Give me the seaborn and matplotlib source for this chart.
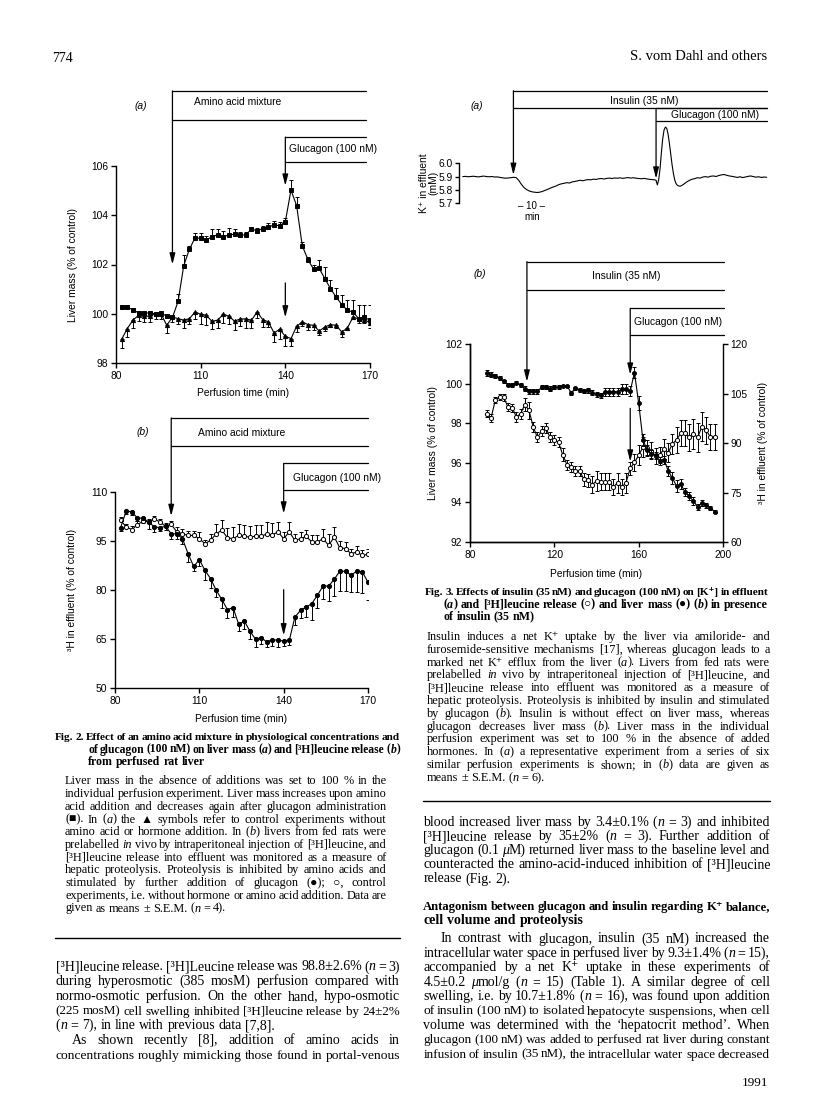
import numpy as np
import matplotlib
matplotlib.use("Agg")
import matplotlib.pyplot as plt
import seaborn as sns

sns.set_style("ticks", rc={"axes.edgecolor": "black", "xtick.color": "black", "ytick.color": "black",
                           "text.color": "black", "axes.labelcolor": "black"})
plt.rcParams["font.family"] = ["Liberation Sans", "DejaVu Sans"]
SERIF = ["Liberation Serif", "DejaVu Sans"]
SPECIAL = set("■▲●○⁺")
FS = 7.4  # figure text size

# ---------------- Fig. 2 data (perfusion time, min) ----------------
fig2_time = list(range(82, 171, 2))
# (a) liver mass, amino acids + glucagon (filled squares), upper SEM
aa_mass = [100.26, 100.26, 100.17, 100.03, 100.03, 100.03, 100.0, 100.03, 99.9, 99.85,
           100.5, 101.95, 102.62, 103.08, 103.06, 102.99, 103.13, 103.2, 103.13, 103.2,
           103.23, 103.2, 103.2, 103.44, 103.37, 103.46, 103.53, 103.6, 103.57, 103.74,
           105.02, 104.39, 102.76, 102.2, 101.81, 101.84, 101.43, 101.02, 100.68, 100.37,
           100.14, 100.07, 99.8, 99.85, 99.74]
aa_mass_err = [0.08, 0.08, 0.05, 0.05, 0.05, 0.05, 0.05, 0.05, 0.05, 0.05,
               0.3, 0.45, 0.15, 0.2, 0.2, 0.15, 0.3, 0.25, 0.25, 0.3,
               0.2, 0.1, 0.1, 0.1, 0.1, 0.1, 0.15, 0.15, 0.15, 0.15,
               0.4, 0.35, 0.15, 0.1, 0.15, 0.35, 0.45, 0.35, 0.35, 0.4,
               0.4, 0.5, 0.55, 0.5, 0.6]
# (a) control (triangles), lower SEM
ctrl_mass = [98.96, 99.40, 99.74, 99.94, 99.90, 99.90, 100.0, 99.98, 99.53, 99.87,
             99.80, 99.74, 99.80, 100.07, 99.98, 99.94, 99.69, 99.74, 99.98, 99.90,
             99.70, 99.79, 99.79, 99.74, 100.07, 99.76, 99.67, 99.22, 99.37, 99.08,
             98.99, 99.49, 99.67, 99.56, 99.53, 99.30, 99.46, 99.56, 99.53, 99.26,
             99.42, 99.87, 99.78, 99.76, 99.63]
ctrl_mass_err = [0.35, 0.35, 0.3, 0.25, 0.25, 0.25, 0.2, 0.2, 0.3, 0.2,
                 0.2, 0.3, 0.2, 0.3, 0.4, 0.4, 0.3, 0.3, 0.35, 0.3,
                 0.35, 0.3, 0.35, 0.3, 0.25, 0.3, 0.2, 0.35, 0.4, 0.4,
                 0.3, 0.25, 0.15, 0.2, 0.2, 0.15, 0.15, 0.1, 0.1, 0.2,
                 0.1, 0.1, 0.15, 0.15, 0.2]
# (b) 3H release, amino acids + glucagon (filled circles), lower SEM
aa_leu = [99.1, 104.2, 103.9, 102.0, 102.0, 100.8, 99.3, 99.1, 99.5, 97.2,
          97.2, 95.7, 91.1, 87.2, 89.3, 86.0, 83.5, 79.9, 77.1, 74.0,
          74.6, 69.5, 70.5, 67.4, 64.9, 65.4, 64.1, 64.8, 64.6, 64.4,
          64.6, 71.7, 73.8, 74.8, 75.8, 78.4, 81.2, 81.2, 83.3, 85.8,
          85.7, 84.5, 85.8, 85.5, 82.4]
aa_leu_err = [1.0, 1.0, 1.0, 1.0, 1.5, 2.0, 1.5, 1.0, 1.0, 1.5,
              1.5, 1.5, 2.5, 1.5, 2.0, 3.0, 3.0, 2.0, 2.5, 2.5,
              3.0, 2.0, 2.5, 2.5, 2.5, 2.0, 1.5, 2.0, 2.0, 1.5,
              1.5, 2.5, 2.5, 3.0, 5.0, 4.0, 4.0, 4.5, 5.0, 6.0,
              6.0, 5.0, 6.5, 6.5, 5.5]
# (b) control (open circles), upper SEM
ctrl_leu = [101.3, 99.3, 98.5, 100.0, 101.1, 100.8, 101.8, 100.8, 99.5, 100.1,
            97.8, 97.2, 96.7, 96.7, 95.7, 94.2, 95.2, 97.2, 98.3, 96.0,
            95.7, 96.7, 96.4, 96.2, 96.5, 96.4, 97.2, 96.9, 97.8, 95.7,
            97.8, 95.2, 95.7, 96.4, 94.7, 94.7, 95.7, 93.7, 96.2, 92.9,
            92.7, 91.1, 91.6, 90.6, 90.9]
ctrl_leu_err = [1.0, 1.0, 1.0, 1.0, 1.0, 1.0, 1.0, 1.0, 1.0, 1.0,
                1.5, 1.5, 1.5, 1.5, 2.0, 1.0, 2.0, 3.0, 3.0, 3.0,
                3.5, 3.5, 3.5, 3.5, 3.5, 3.5, 3.5, 3.5, 3.0, 2.0,
                3.0, 2.0, 2.0, 2.0, 2.0, 2.0, 3.0, 3.5, 3.0, 2.0,
                2.0, 1.5, 2.0, 1.5, 1.5]

# ---------------- Fig. 3 data ----------------
# (a) K+ trace (mM) against minutes from start of recording
k_time = list(range(0, 72)) + [72, 72.5, 73, 73.5, 74, 74.5, 75, 75.5, 76, 76.5, 77,
                               77.5, 78, 78.5, 79, 79.5, 80, 80.5, 81, 81.5, 82] + list(range(83, 115))
k_conc = [5.900, 5.902, 5.899, 5.901, 5.903, 5.900, 5.898, 5.902, 5.904, 5.900,
          5.899, 5.901, 5.897, 5.898, 5.894, 5.891, 5.888, 5.890, 5.892, 5.895,
          5.893, 5.872, 5.842, 5.818, 5.802, 5.792, 5.786, 5.783, 5.781, 5.784,
          5.790, 5.798, 5.806, 5.815, 5.823, 5.830, 5.840, 5.846, 5.850, 5.855,
          5.852, 5.860, 5.864, 5.868, 5.873, 5.869, 5.874, 5.878, 5.876, 5.881,
          5.879, 5.884, 5.886, 5.882, 5.887, 5.889, 5.886, 5.890, 5.888, 5.891,
          5.887, 5.890, 5.893, 5.889, 5.892, 5.888, 5.886, 5.884, 5.887, 5.883,
          5.880, 5.878,
          5.876, 5.872, 5.838, 5.880, 5.960, 6.080, 6.185, 6.250, 6.272, 6.262, 6.220,
          6.150, 6.070, 5.990, 5.925, 5.875, 5.848, 5.835, 5.830, 5.828, 5.832,
          5.845, 5.860, 5.872, 5.880, 5.885, 5.892, 5.889, 5.897, 5.900, 5.896,
          5.903, 5.905, 5.901, 5.908, 5.913, 5.916, 5.910, 5.905, 5.902, 5.898,
          5.894, 5.899, 5.893, 5.897, 5.902, 5.905, 5.900, 5.896, 5.899, 5.894,
          5.897, 5.895]
k_insulin_t, k_glucagon_t = 19, 72.5

# (b) perfusion time, liver mass (filled) and 3H release (open)
fig3_time = list(range(88, 197, 2))
ins_mass = [100.53, 100.45, 100.39, 100.27, 100.12, 99.95, 99.95, 100.05, 99.91, 99.74,
            99.62, 99.62, 99.62, 99.81, 99.81, 99.74, 99.81, 99.83, 99.88, 99.88,
            99.54, 99.76, 99.67, 99.62, 99.67, 99.54, 99.45, 99.40, 99.59, 99.59,
            99.59, 99.59, 99.71, 99.71, 99.62, 100.56, 99.02, 97.17, 96.66, 96.46,
            96.37, 96.11, 96.16, 95.60, 95.22, 94.83, 94.91, 94.52, 94.32, 94.06,
            93.77, 93.97, 93.85, 93.72, 93.54]
ins_mass_err = [0.15, 0.12, 0.12, 0.1, 0.08, 0.08, 0.1, 0.08, 0.1, 0.12,
                0.12, 0.12, 0.12, 0.1, 0.1, 0.12, 0.1, 0.08, 0.05, 0.05,
                0.1, 0.08, 0.1, 0.1, 0.12, 0.12, 0.15, 0.15, 0.2, 0.2,
                0.2, 0.2, 0.25, 0.25, 0.25, 0.3, 0.35, 0.3, 0.25, 0.2,
                0.2, 0.2, 0.2, 0.25, 0.3, 0.3, 0.25, 0.2, 0.2, 0.2,
                0.15, 0.15, 0.12, 0.12, 0.1]
ins_leu = [98.9, 97.6, 103.0, 104.0, 103.8, 100.9, 100.7, 97.9, 98.9, 101.6,
           99.9, 94.8, 91.7, 93.6, 94.5, 91.7, 90.9, 90.2, 86.4, 83.4,
           82.6, 81.5, 81.5, 79.0, 78.7, 77.4, 78.5, 78.3, 78.3, 78.3,
           76.6, 78.0, 76.6, 78.0, 82.3, 84.1, 86.3, 88.7, 88.5, 87.7,
           86.0, 86.4, 88.2, 87.1, 89.7, 91.0, 93.0, 93.0, 91.7, 92.8,
           91.7, 95.0, 93.8, 91.9, 91.9]
ins_leu_err = [1.0, 1.2, 1.0, 1.0, 1.0, 1.2, 1.2, 1.5, 1.5, 2.0,
               2.5, 1.5, 1.5, 1.5, 1.5, 1.5, 1.5, 1.5, 2.0, 1.5,
               1.5, 1.5, 1.5, 2.0, 2.0, 2.5, 3.0, 2.5, 2.5, 2.5,
               2.5, 3.0, 2.5, 3.0, 2.0, 2.5, 3.0, 3.0, 2.5, 2.5,
               2.5, 2.5, 3.0, 3.0, 3.0, 4.0, 4.0, 4.0, 4.0, 4.5,
               4.5, 4.5, 4.0, 4.0, 4.0]

# ---------------- page text ----------------
fig2_title = ["Fig. 2. Effect of an amino acid mixture in physiological concentrations and",
              "of glucagon (100 nM) on liver mass ({a}) and [³H]leucine release ({b})",
              "from perfused rat liver"]
fig2_legend = ["Liver mass in the absence of additions was set to 100 % in the",
               "individual perfusion experiment. Liver mass increases upon amino",
               "acid addition and decreases again after glucagon administration",
               "(■). In ({a}) the ▲ symbols refer to control experiments without",
               "amino acid or hormone addition. In ({b}) livers from fed rats were",
               "prelabelled {in vivo} by intraperitoneal injection of [³H]leucine, and",
               "[³H]leucine release into effluent was monitored as a measure of",
               "hepatic proteolysis. Proteolysis is inhibited by amino acids and",
               "stimulated by further addition of glucagon (●); ○, control",
               "experiments, i.e. without hormone or amino acid addition. Data are",
               "given as means ± S.E.M. ({n} = 4)."]
left_body = ["[³H]leucine release. [³H]Leucine release was 98.8±2.6% ({n} = 3)",
             "during hyperosmotic (385 mosM) perfusion compared with",
             "normo-osmotic perfusion. On the other hand, hypo-osmotic",
             "(225 mosM) cell swelling inhibited [³H]leucine release by 24±2%",
             "({n} = 7), in line with previous data [7,8].",
             "As shown recently [8], addition of amino acids in",
             "concentrations roughly mimicking those found in portal-venous"]
fig3_title = ["Fig. 3. Effects of insulin (35 nM) and glucagon (100 nM) on [K⁺] in effluent",
              "({a}) and [³H]leucine release (○) and liver mass (●) ({b}) in presence",
              "of insulin (35 nM)"]
fig3_legend = ["Insulin induces a net K⁺ uptake by the liver via amiloride- and",
               "furosemide-sensitive mechanisms [17], whereas glucagon leads to a",
               "marked net K⁺ efflux from the liver ({a}). Livers from fed rats were",
               "prelabelled {in vivo} by intraperitoneal injection of [³H]leucine, and",
               "[³H]leucine release into effluent was monitored as a measure of",
               "hepatic proteolysis. Proteolysis is inhibited by insulin and stimulated",
               "by glucagon ({b}). Insulin is without effect on liver mass, whereas",
               "glucagon decreases liver mass ({b}). Liver mass in the individual",
               "perfusion experiment was set to 100 % in the absence of added",
               "hormones. In ({a}) a representative experiment from a series of six",
               "similar perfusion experiments is shown; in ({b}) data are given as",
               "means ± S.E.M. ({n} = 6)."]
right_body1 = ["blood increased liver mass by 3.4±0.1% ({n} = 3) and inhibited",
               "[³H]leucine release by 35±2% ({n} = 3). Further addition of",
               "glucagon (0.1 {μ}M) returned liver mass to the baseline level and",
               "counteracted the amino-acid-induced inhibition of [³H]leucine",
               "release (Fig. 2)."]
right_head = ["Antagonism between glucagon and insulin regarding K⁺ balance,",
              "cell volume and proteolysis"]
right_body2 = ["In contrast with glucagon, insulin (35 nM) increased the",
               "intracellular water space in perfused liver by 9.3±1.4% ({n} = 15),",
               "accompanied by a net K⁺ uptake in these experiments of",
               "4.5±0.2 {μ}mol/g ({n} = 15) (Table 1). A similar degree of cell",
               "swelling, i.e. by 10.7±1.8% ({n} = 16), was found upon addition",
               "of insulin (100 nM) to isolated hepatocyte suspensions, when cell",
               "volume was determined with the ‘hepatocrit method’. When",
               "glucagon (100 nM) was added to perfused rat liver during constant",
               "infusion of insulin (35 nM), the intracellular water space decreased"]

W, H = 816, 1108
fig = plt.figure(figsize=(W / 100, H / 100), dpi=100)
fig.patch.set_facecolor("white")


def add_ax(l, t, r, b):
    return fig.add_axes([l / W, 1 - b / H, (r - l) / W, (b - t) / H])


def style(ax):
    for s in ax.spines.values():
        s.set_linewidth(1.0)
    ax.tick_params(direction="out", length=3.5, width=1.0, labelsize=FS, pad=2)
    ax.grid(False)
    ax.set_facecolor("none")


def series(ax, x, y, lo, hi, marker, filled, ms=3.2):
    ax.errorbar(x, y, yerr=[lo, hi], fmt="none", ecolor="k", elinewidth=0.7,
                capsize=1.6, capthick=0.7, zorder=2)
    sns.lineplot(x=x, y=y, ax=ax, color="k", lw=0.8, marker=marker, markersize=ms,
                 markerfacecolor="k" if filled else "white", markeredgecolor="k",
                 markeredgewidth=0.7, zorder=3)


ARROW = dict(arrowstyle="-|>,head_length=0.55,head_width=0.14", color="k", lw=0.9,
             shrinkA=0, shrinkB=0, mutation_scale=12)


def bracket(ax, t, tip, top, low, xend, label, lx, ly):
    tr = ax.get_xaxis_transform()
    ax.annotate("", xy=(t, tip), xycoords="data", xytext=(t, top), textcoords=tr,
                arrowprops=ARROW, annotation_clip=False)
    for yy in (top, low):
        ax.plot([t, xend], [yy, yy], transform=tr, color="k", lw=0.9, clip_on=False)
    ax.text(lx, ly, label, transform=tr, ha="center", va="center", fontsize=FS)


def arrow(ax, t, y0, y1):
    ax.annotate("", xy=(t, y1), xytext=(t, y0), arrowprops=ARROW, annotation_clip=False)


def panel_tag(ax, x, y, letter):
    ax.text(x, y, "(" + letter + ")", transform=ax.get_xaxis_transform(),
            ha="center", va="center", fontsize=FS, fontstyle="italic")


def labels(ax, xlabel, xl_y, ylabel, yl_x):
    if xlabel:
        ax.set_xlabel(xlabel, fontsize=FS)
        ax.xaxis.set_label_coords(0.5, xl_y)
        ax.xaxis.label.set_va("center")
    ax.set_ylabel(ylabel, fontsize=FS)
    ax.yaxis.set_label_coords(yl_x, 0.5)
    ax.yaxis.label.set_va("center")


zeros2 = np.zeros(len(fig2_time))

# ---- Fig. 2 (a) ----
ax = add_ax(116, 166, 370, 363)
style(ax)
series(ax, fig2_time, ctrl_mass, ctrl_mass_err, zeros2, "^", True, 3.0)
series(ax, fig2_time, aa_mass, zeros2, aa_mass_err, "s", True, 2.8)
bracket(ax, 100, 102.0, 1.381, 1.234, 168.5, "Amino acid mixture", 123.2, 1.325)
bracket(ax, 140, 105.2, 1.147, 1.022, 168.5, "Glucagon (100 nM)", 156.9, 1.086)
arrow(ax, 140, 101.25, 99.85)
panel_tag(ax, 88.8, 1.305, "a")
ax.set_xlim(80, 170)
ax.set_ylim(98, 106)
ax.set_xticks([80, 110, 140, 170])
ax.set_yticks([98, 100, 102, 104, 106])
labels(ax, "Perfusion time (min)", -0.151, "Liver mass (% of control)", -0.170)
sns.despine(ax=ax)

# ---- Fig. 2 (b) ----
ax = add_ax(115, 492, 368, 688)
style(ax)
series(ax, fig2_time, ctrl_leu, zeros2, ctrl_leu_err, "o", False, 3.0)
series(ax, fig2_time, aa_leu, aa_leu_err, zeros2, "o", True, 3.0)
bracket(ax, 100, 102.65, 1.378, 1.235, 170, "Amino acid mixture", 125.1, 1.303)
bracket(ax, 140, 103.4, 1.146, 1.010, 170, "Glucagon (100 nM)", 158.9, 1.073)
arrow(ax, 140, 80.1, 66.1)
panel_tag(ax, 89.9, 1.308, "b")
ax.set_xlim(80, 170)
ax.set_ylim(50, 110)
ax.set_xticks([80, 110, 140, 170])
ax.set_yticks([50, 65, 80, 95, 110])
labels(ax, "Perfusion time (min)", -0.158, "³H in effluent (% of control)", -0.171)
sns.despine(ax=ax)

# ---- Fig. 3 (a) ----
ax = add_ax(459.3, 163.3, 766.7, 203.3)
style(ax)
sns.lineplot(x=k_time, y=k_conc, ax=ax, color="k", lw=0.8)
ax.lines[-1].set_clip_on(False)
bracket(ax, k_insulin_t, 5.913, 2.815, 2.375, 114.2, "Insulin (35 nM)", 68, 2.56)
bracket(ax, k_glucagon_t, 5.885, 2.375, 2.0575, 114.2, "Glucagon (100 nM)", 94.6, 2.2)
panel_tag(ax, 5.2, 2.43, "a")
ax.set_xlim(-1.3, 114)
ax.set_ylim(5.7, 6.0)
ax.set_yticks([5.7, 5.8, 5.9, 6.0])
ax.set_yticklabels(["5.7", "5.8", "5.9", "6.0"])
ax.tick_params(axis="y", length=3, pad=1.5)
ax.set_xticks([])
sns.despine(ax=ax, bottom=True)
ax.set_ylabel("K⁺ in effluent\n(mM)", fontsize=FS, linespacing=1.0)
ax.yaxis.set_label_coords(-0.099, 0.5)
ax.yaxis.label.set_va("center")
tr = ax.get_xaxis_transform()
ax.text(25.9, -0.06, "– 10 –", transform=tr, ha="center", va="center", fontsize=FS - 0.4)
ax.text(25.9, -0.33, "min", transform=tr, ha="center", va="center", fontsize=FS - 0.4)

# ---- Fig. 3 (b) ----
ax = add_ax(470, 344, 723, 542)
style(ax)
axr = ax.twinx()
style(axr)
series(axr, fig3_time, ins_leu, ins_leu_err, ins_leu_err, "o", False, 3.0)
series(ax, fig3_time, ins_mass, ins_mass_err, ins_mass_err, "o", True, 2.8)
ax.set_zorder(axr.get_zorder() + 1)
bracket(ax, 107, 100.1, 1.416, 1.273, 200.3, "Insulin (35 nM)", 154, 1.343)
bracket(ax, 156, 100.45, 1.180, 1.045, 200.3, "Glucagon (100 nM)", 178.7, 1.113)
arrow(ax, 156, 98.75, 96.06)
panel_tag(ax, 84.7, 1.352, "b")
ax.set_xlim(80, 200)
ax.set_ylim(92, 102)
axr.set_ylim(60, 120)
ax.set_xticks([80, 120, 160, 200])
ax.set_yticks([92, 94, 96, 98, 100, 102])
axr.set_yticks([60, 75, 90, 105, 120])
labels(ax, "Perfusion time (min)", -0.162, "Liver mass (% of control)", -0.145)
labels(axr, None, 0, "³H in effluent (% of control)", 1.159)
axr.yaxis.label.set_rotation(90)
for a in (ax, axr):
    a.spines["top"].set_visible(False)
ax.spines["right"].set_visible(False)

# ---------------- page text ----------------
renderer = fig.canvas.get_renderer()


def parse(word):
    segs, italic, buf = [], False, ""
    for ch in word:
        if ch in "{}":
            if buf:
                segs.append((buf, italic))
            buf, italic = "", ch == "{"
        else:
            buf += ch
    if buf:
        segs.append((buf, italic))
    return segs


def family_for(s):
    return SERIF if any(c in SPECIAL for c in s) else "Liberation Serif"


def draw_line(text, x0, x1, y, size, weight="normal", justify=True):
    words = [parse(w) for w in text.split()]
    arts = [[fig.text(0, 0, s, fontsize=size, fontweight=weight,
                      fontstyle="italic" if it else "normal", family=family_for(s),
                      va="baseline", ha="left") for s, it in segs] for segs in words]
    widths = [[a.get_window_extent(renderer).width for a in w] for w in arts]
    total = sum(sum(w) for w in widths)
    space = 0.25 * size * 100 / 72
    n = len(arts)
    gap = (x1 - x0 - total) / (n - 1) if (justify and n > 1) else space
    if n > 1 and (x1 - x0 - total) / (n - 1) < 0.6 * space:
        for w in arts:
            for a in w:
                a.remove()
        return draw_line(text, x0, x1, y, size * 0.97, weight, justify)
    x = x0
    for w, ws in zip(arts, widths):
        for a, wi in zip(w, ws):
            a.set_position((x / W, 1 - y / H))
            x += wi
        x += gap


def paragraph(lines, x0, x1, y0, step, size, weight="normal", last_ragged=True, first_x=None):
    for i, line in enumerate(lines):
        lx = first_x if (i == 0 and first_x is not None) else x0
        last = i == len(lines) - 1
        draw_line(line, lx, x1, y0 + i * step, size, weight, justify=not (last and last_ragged))


# running head and folio
fig.text(52 / W, 1 - 62 / H, "774", fontsize=10, family="Liberation Serif", va="baseline", ha="left")
fig.text(767 / W, 1 - 60 / H, "S. vom Dahl and others", fontsize=10.5, family="Liberation Serif",
         va="baseline", ha="right")
fig.text(768 / W, 1 - 1085.5 / H, "1991", fontsize=9.5, family="Liberation Serif",
         va="baseline", ha="right")

# left column
paragraph(fig2_title, 88.3, 400, 740, 12.7, 8.6, "bold", first_x=55)
paragraph(fig2_legend, 65, 386.7, 784.5, 12.7, 8.8)
fig.add_artist(plt.Line2D([55 / W, 400 / W], [1 - 938 / H, 1 - 938 / H], color="k", lw=1.0))
paragraph(left_body[:5], 55.7, 400, 970.5, 14.7, 10)
paragraph(left_body[5:], 55.7, 400, 970.5 + 5 * 14.7, 14.7, 10, first_x=71.7, last_ragged=False)

# right column
paragraph(fig3_title, 443.3, 768, 595, 12.7, 8.6, "bold", first_x=425)
paragraph(fig3_legend, 426.7, 770, 640, 12.8, 8.8)
fig.add_artist(plt.Line2D([423 / W, 770 / W], [1 - 800.7 / H, 1 - 800.7 / H], color="k", lw=1.0))
paragraph(right_body1, 423.3, 770, 826, 14.1, 10)
paragraph(right_head, 423.3, 770, 910, 14.0, 10, "bold")
paragraph(right_body2, 423.3, 770, 942.5, 14.4, 10, first_x=440.7, last_ragged=False)

fig.savefig("out.png", dpi=100)
